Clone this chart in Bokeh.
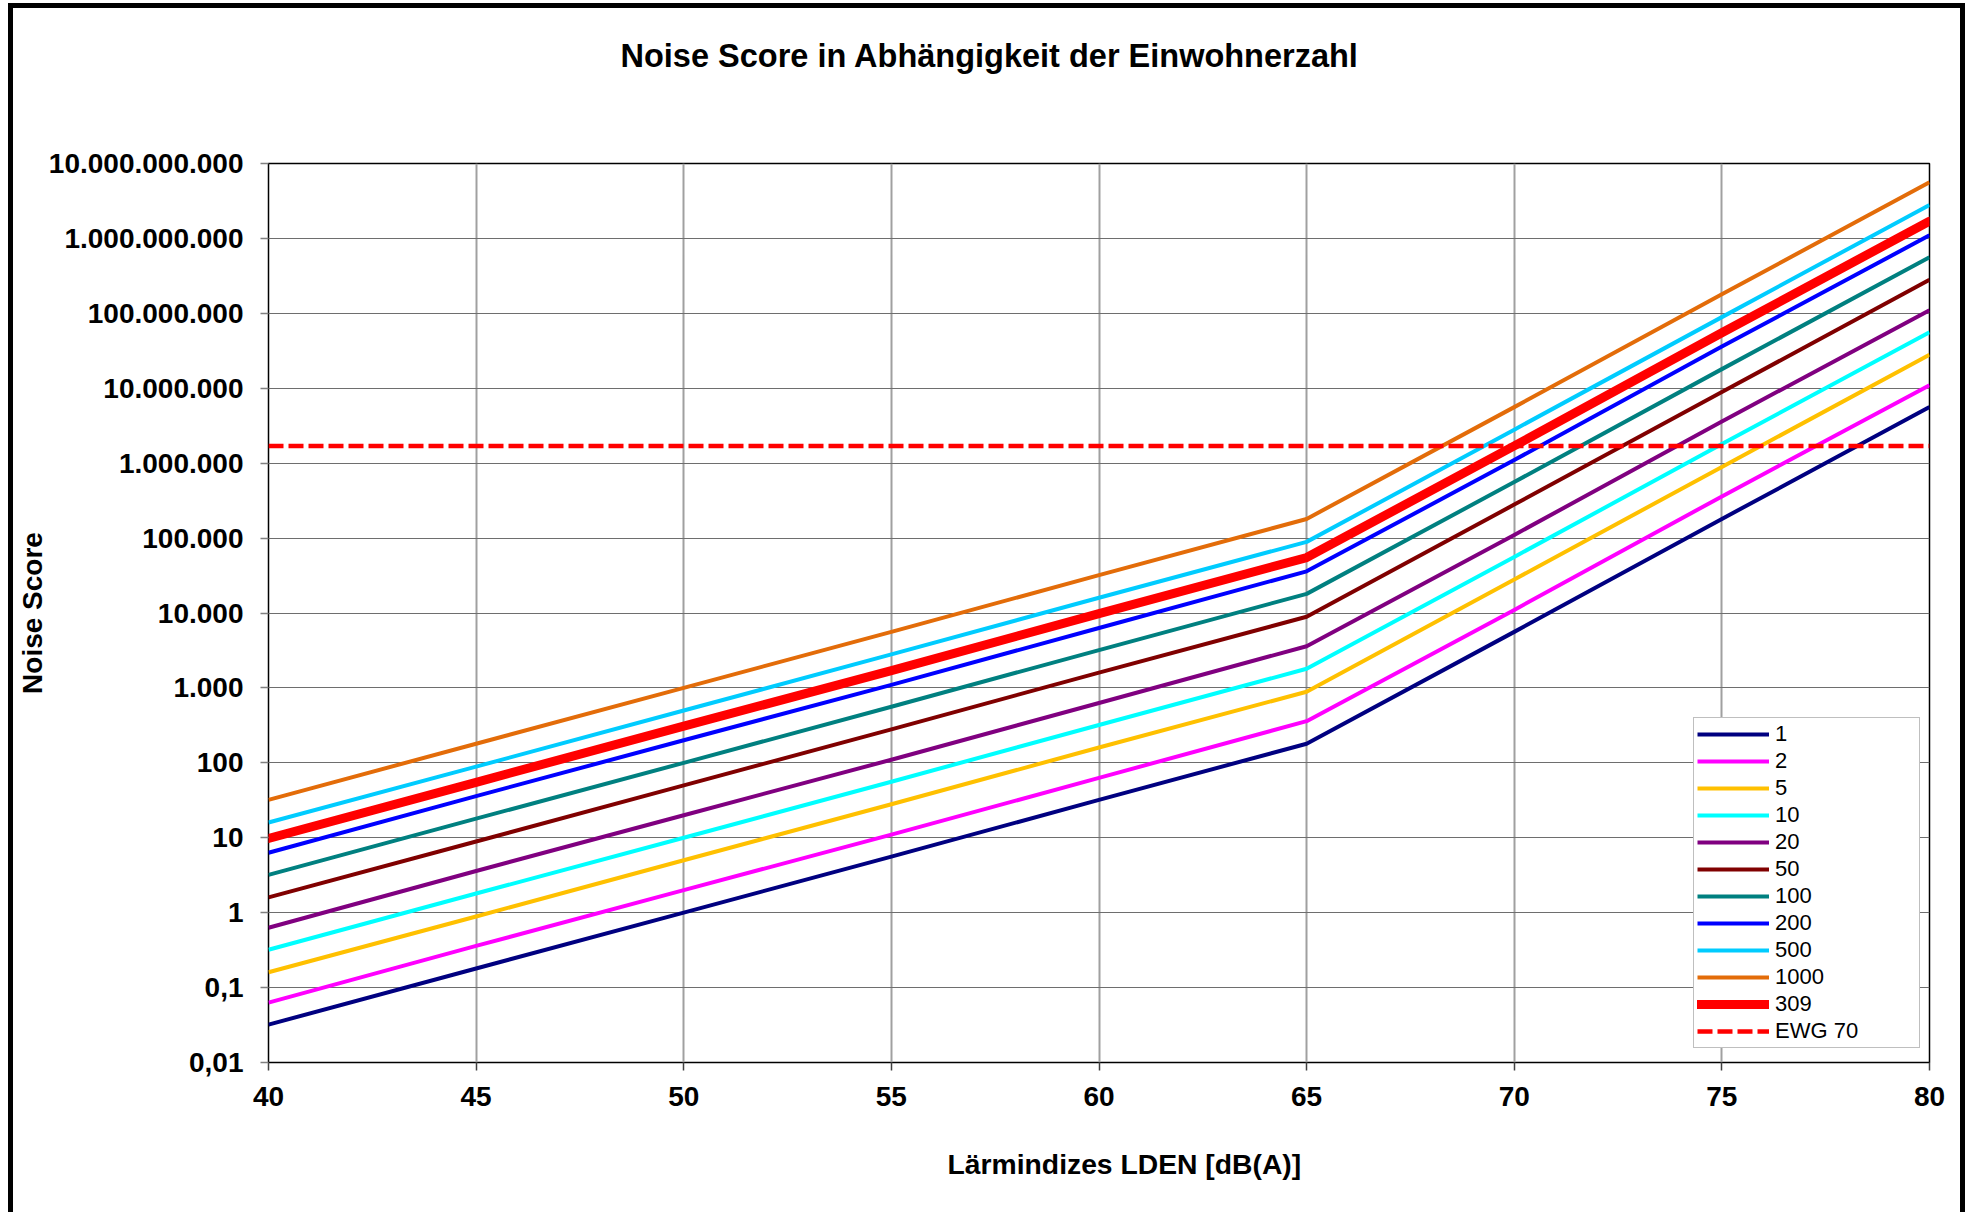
from bokeh.plotting import figure
from bokeh.models import FixedTicker, Legend, LegendItem, Title, Range1d
from bokeh.embed import file_html
from bokeh.resources import INLINE

# ---- data ----
lden = [40, 45, 50, 55, 60, 65, 70, 75, 80]

series_names = ["1", "2", "5", "10", "20", "50", "100", "200", "500", "1000", "309"]
s_1 = [0.032, 0.18, 1.0, 5.6, 32, 180, 5600, 180000, 5600000]
s_2 = [0.063, 0.36, 2.0, 11, 63, 360, 11000, 360000, 11000000]
s_5 = [0.16, 0.89, 5.0, 28, 160, 890, 28000, 890000, 28000000]
s_10 = [0.32, 1.8, 10, 56, 320, 1800, 56000, 1800000, 56000000]
s_20 = [0.63, 3.6, 20, 110, 630, 3600, 110000, 3600000, 110000000]
s_50 = [1.6, 8.9, 50, 280, 1600, 8900, 280000, 8900000, 280000000]
s_100 = [3.2, 18, 100, 560, 3200, 18000, 560000, 18000000, 560000000]
s_200 = [6.3, 36, 200, 1100, 6300, 36000, 1100000, 36000000, 1100000000]
s_500 = [16, 89, 500, 2800, 16000, 89000, 2800000, 89000000, 2800000000]
s_1000 = [32, 180, 1000, 5600, 32000, 180000, 5600000, 180000000, 5600000000]
s_309 = [9.8, 55, 309, 1700, 9800, 55000, 1700000, 55000000, 1700000000]

ewg_name = "EWG 70"
ewg_x = [40, 80]
ewg_y = [1700000, 1700000]

x_ticks = [40, 45, 50, 55, 60, 65, 70, 75, 80]
y_ticks = [0.01, 0.1, 1, 10, 100, 1000, 10000, 100000, 1000000,
           10000000, 100000000, 1000000000, 10000000000]
y_tick_labels = ["0,01", "0,1", "1", "10", "100", "1.000", "10.000", "100.000",
                 "1.000.000", "10.000.000", "100.000.000", "1.000.000.000",
                 "10.000.000.000"]

title_text = "Noise Score in Abhängigkeit der Einwohnerzahl"
x_label = "Lärmindizes LDEN [dB(A)]"
y_label = "Noise Score"

# ---- styling ----
FONT = "Liberation Sans"
colors = ["#000080", "#FF00FF", "#FFC000", "#00FFFF", "#800080", "#800000",
          "#008080", "#0000FF", "#00CCFF", "#E36C09", "#FF0000"]
series_values = [s_1, s_2, s_5, s_10, s_20, s_50, s_100, s_200, s_500, s_1000, s_309]

p = figure(width=1947, height=1204, y_axis_type="log",
           x_range=Range1d(40, 80), y_range=Range1d(0.01, 1e10),
           output_backend="svg", toolbar_location=None,
           min_border_left=255, min_border_top=155,
           min_border_right=41, min_border_bottom=155)
p.title = None

p.styles = {"box-sizing": "content-box",
            "margin-left": "8px", "margin-top": "3px",
            "border-top": "5px solid black", "border-left": "5px solid black",
            "border-right": "5px solid black"}

p.outline_line_color = "black"
p.outline_line_width = 1.5
p.background_fill_color = "white"
p.border_fill_color = "white"

# grids
p.ygrid.ticker = FixedTicker(ticks=y_ticks)
p.ygrid.grid_line_color = "#6e6e6e"
p.ygrid.grid_line_width = 1.2
p.xgrid.ticker = FixedTicker(ticks=x_ticks)
p.xgrid.grid_line_color = "#a0a0a0"
p.xgrid.grid_line_width = 2

# axes
p.xaxis.ticker = FixedTicker(ticks=x_ticks)
p.yaxis.ticker = FixedTicker(ticks=y_ticks)
p.yaxis.major_label_overrides = {t: lab for t, lab in zip(y_ticks, y_tick_labels)}
for ax in (p.xaxis[0], p.yaxis[0]):
    ax.axis_line_color = None
    ax.major_tick_in = 0
    ax.major_tick_out = 8
    ax.minor_tick_line_color = None
    ax.major_label_text_font = FONT
    ax.major_label_text_font_size = "28px"
    ax.major_label_text_font_style = "bold"
    ax.major_label_text_color = "black"
p.xaxis.major_tick_line_color = "#404040"
p.yaxis.major_tick_line_color = "#808080"
p.xaxis.major_tick_line_width = 1.5
p.yaxis.major_tick_line_width = 1.5
p.xaxis.major_label_standoff = 16
p.yaxis.major_label_standoff = 17

p.yaxis.axis_label = y_label
p.yaxis.axis_label_text_font = FONT
p.yaxis.axis_label_text_font_size = "28px"
p.yaxis.axis_label_text_font_style = "bold"
p.yaxis.axis_label_text_color = "black"
p.yaxis.axis_label_standoff = -2

# title (with a spacer title between it and the plot frame)
p.add_layout(Title(text=" ", text_font_size="1px", standoff=82), "above")
p.add_layout(Title(text=title_text, align="left", offset=352,
                   text_font=FONT, text_font_size="32.5px", text_font_style="bold",
                   text_color="black", standoff=10), "above")

# x-axis label (with a spacer between it and the axis)
p.add_layout(Title(text=" ", text_font_size="1px", standoff=29), "below")
p.add_layout(Title(text=x_label, align="left", offset=679,
                   text_font=FONT, text_font_size="28.3px", text_font_style="bold",
                   text_color="black", standoff=10), "below")

# lines
items = []
for name, vals, col in zip(series_names, series_values, colors):
    w = 9 if name == "309" else 4
    r = p.line(lden, vals, line_color=col, line_width=w, line_join="round",
               line_cap="round" if name == "309" else "butt")
    items.append(LegendItem(label=name, renderers=[r]))

r_ewg = p.line(ewg_x, ewg_y, line_color="#FF0000", line_width=4.5, line_dash="15 5")
items.append(LegendItem(label=ewg_name, renderers=[r_ewg]))

legend = Legend(items=items, location=(1425, 14))
legend.border_line_color = "#808080"
legend.border_line_width = 1.5
legend.background_fill_color = "white"
legend.background_fill_alpha = 1
legend.label_text_font = FONT
legend.label_text_font_size = "22px"
legend.label_text_color = "black"
legend.glyph_width = 72
legend.glyph_height = 20
legend.label_height = 20
legend.label_width = 141
legend.label_standoff = 6
legend.spacing = 1
legend.padding = 3
legend.margin = 0
p.add_layout(legend, "center")

open("out.html", "w").write(file_html(p, INLINE))
